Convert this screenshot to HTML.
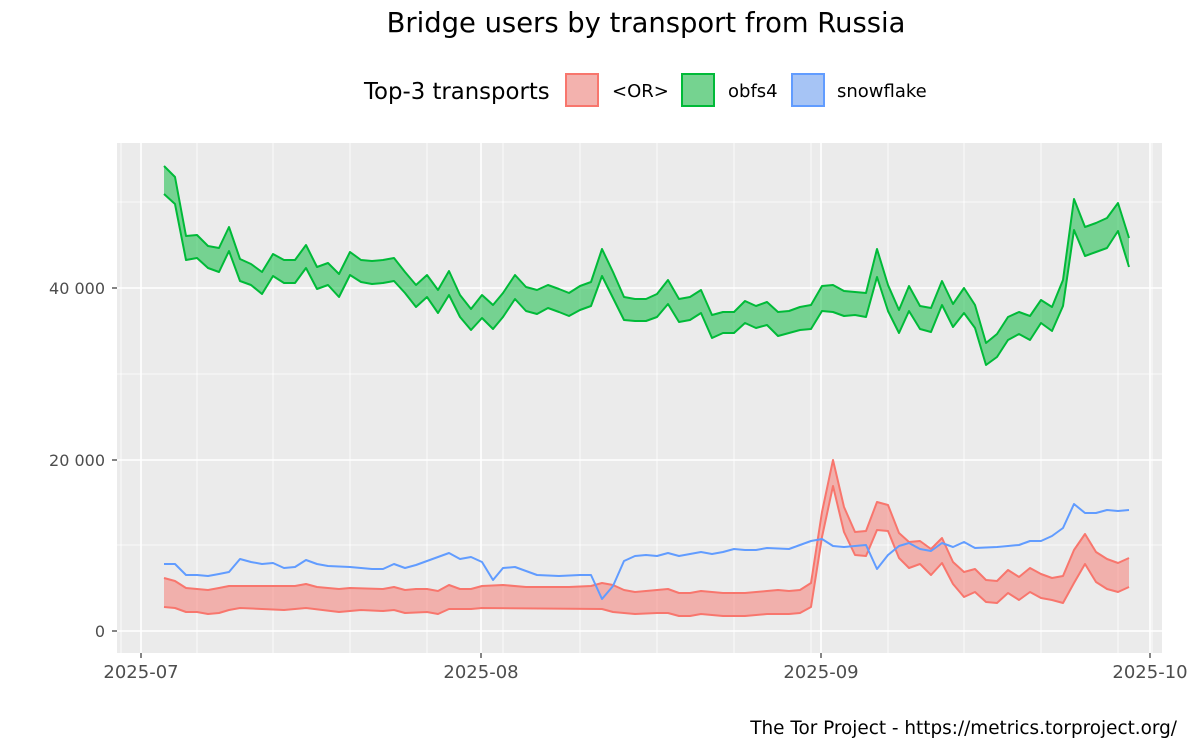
<!DOCTYPE html>
<html><head><meta charset="utf-8"><style>body{margin:0;background:#fff}svg{display:block}</style></head>
<body>
<svg width="1200" height="750" xmlns="http://www.w3.org/2000/svg" font-family="'DejaVu Sans','Liberation Sans',sans-serif">
<rect width="1200" height="750" fill="#fff"/>
<text x="646" y="32" font-size="27.4" text-anchor="middle" fill="#000">Bridge users by transport from Russia</text>
<text x="364" y="99" font-size="22.8" fill="#000">Top-3 transports</text>
<rect x="566" y="74" width="32" height="32" fill="#F3B2AE" stroke="#F8766D" stroke-width="2"/>
<text x="612" y="97" font-size="18">&lt;OR&gt;</text>
<rect x="682" y="74" width="32" height="32" fill="#75D390" stroke="#00BA38" stroke-width="2"/>
<text x="728" y="97" font-size="18">obfs4</text>
<rect x="792" y="74" width="32" height="32" fill="#A6C4F5" stroke="#619CFF" stroke-width="2"/>
<text x="837" y="97" font-size="18">snowflake</text>
<rect x="117" y="143" width="1045" height="510" fill="#EBEBEB"/>
<g stroke="#fff" stroke-width="0.8">
<line x1="117" x2="1162" y1="545" y2="545"/><line x1="117" x2="1162" y1="374" y2="374"/><line x1="117" x2="1162" y1="202" y2="202"/>
<line x1="197" x2="197" y1="143" y2="653"/><line x1="273" x2="273" y1="143" y2="653"/><line x1="350" x2="350" y1="143" y2="653"/><line x1="427" x2="427" y1="143" y2="653"/>
<line x1="503" x2="503" y1="143" y2="653"/><line x1="580" x2="580" y1="143" y2="653"/><line x1="657" x2="657" y1="143" y2="653"/><line x1="734" x2="734" y1="143" y2="653"/><line x1="811" x2="811" y1="143" y2="653"/>
<line x1="888" x2="888" y1="143" y2="653"/><line x1="964" x2="964" y1="143" y2="653"/><line x1="1041" x2="1041" y1="143" y2="653"/><line x1="1118" x2="1118" y1="143" y2="653"/>
<line x1="121" x2="121" y1="143" y2="653"/><line x1="1152" x2="1152" y1="143" y2="653"/>
</g>
<g stroke="#fff" stroke-width="1.6">
<line x1="117" x2="1162" y1="631" y2="631"/><line x1="117" x2="1162" y1="460" y2="460"/><line x1="117" x2="1162" y1="288" y2="288"/>
<line x1="141" x2="141" y1="143" y2="653"/><line x1="481" x2="481" y1="143" y2="653"/><line x1="821" x2="821" y1="143" y2="653"/><line x1="1150" x2="1150" y1="143" y2="653"/>
</g>
<polygon fill="#00BA38" fill-opacity="0.5" points="164,166 175,177 186,236 197,235 208,246 219,248 229,227 240,259 251,264 262,272 273,254 284,260 295,260 306,245 317,267 328,263 339,274 350,252 361,260 372,261 383,260 394,258 405,272 416,285 427,275 438,290 449,271 460,295 471,309 482,295 493,305 503,293 515,275 526,287 537,290 548,285 559,289 569,293 580,286 591,282 602,249 613,272 624,297 635,299 646,299 657,294 668,280 679,299 690,297 701,290 712,315 723,312 734,312 745,301 756,306 767,302 778,312 789,311 800,307 811,305 822,286 833,285 844,291 855,292 866,293 877,249 888,285 899,310 909,286 920,306 931,308 942,281 953,304 964,288 975,305 986,343 997,334 1008,317 1019,312 1030,316 1041,300 1052,307 1063,280 1074,199 1085,227 1096,223 1107,218 1118,203 1129,238 1129,267 1118,231 1107,248 1096,252 1085,256 1074,230 1063,306 1052,331 1041,323 1030,340 1019,334 1008,340 997,357 986,365 975,328 964,313 953,327 942,305 931,332 920,329 909,311 899,333 888,311 877,277 866,317 855,315 844,316 833,312 822,311 811,329 800,330 789,333 778,336 767,325 756,328 745,323 734,333 723,333 712,338 701,313 690,320 679,322 668,304 657,317 646,321 635,321 624,320 613,298 602,276 591,306 580,310 569,316 559,312 548,308 537,314 526,311 515,299 503,317 493,329 482,318 471,330 460,317 449,295 438,313 427,297 416,307 405,293 394,281 383,283 372,284 361,282 350,275 339,297 328,285 317,289 306,268 295,283 284,283 273,276 262,294 251,285 240,281 229,251 219,272 208,268 197,258 186,260 175,204 164,194"/>
<g fill="none" stroke="#00BA38" stroke-width="2" stroke-linejoin="round">
<polyline points="164,166 175,177 186,236 197,235 208,246 219,248 229,227 240,259 251,264 262,272 273,254 284,260 295,260 306,245 317,267 328,263 339,274 350,252 361,260 372,261 383,260 394,258 405,272 416,285 427,275 438,290 449,271 460,295 471,309 482,295 493,305 503,293 515,275 526,287 537,290 548,285 559,289 569,293 580,286 591,282 602,249 613,272 624,297 635,299 646,299 657,294 668,280 679,299 690,297 701,290 712,315 723,312 734,312 745,301 756,306 767,302 778,312 789,311 800,307 811,305 822,286 833,285 844,291 855,292 866,293 877,249 888,285 899,310 909,286 920,306 931,308 942,281 953,304 964,288 975,305 986,343 997,334 1008,317 1019,312 1030,316 1041,300 1052,307 1063,280 1074,199 1085,227 1096,223 1107,218 1118,203 1129,238"/>
<polyline points="164,194 175,204 186,260 197,258 208,268 219,272 229,251 240,281 251,285 262,294 273,276 284,283 295,283 306,268 317,289 328,285 339,297 350,275 361,282 372,284 383,283 394,281 405,293 416,307 427,297 438,313 449,295 460,317 471,330 482,318 493,329 503,317 515,299 526,311 537,314 548,308 559,312 569,316 580,310 591,306 602,276 613,298 624,320 635,321 646,321 657,317 668,304 679,322 690,320 701,313 712,338 723,333 734,333 745,323 756,328 767,325 778,336 789,333 800,330 811,329 822,311 833,312 844,316 855,315 866,317 877,277 888,311 899,333 909,311 920,329 931,332 942,305 953,327 964,313 975,328 986,365 997,357 1008,340 1019,334 1030,340 1041,323 1052,331 1063,306 1074,230 1085,256 1096,252 1107,248 1118,231 1129,267"/>
</g>
<polygon fill="#F8766D" fill-opacity="0.5" points="164,578 175,581 186,588 197,589 208,590 219,588 229,586 240,586 295,586 306,584 317,587 339,589 350,588 383,589 394,587 405,590 416,589 427,589 438,591 449,585 460,589 471,589 482,586 503,585 526,587 548,587 569,587 591,586 602,583 613,585 624,590 635,592 646,591 657,590 668,589 679,593 690,593 701,591 712,592 723,593 745,593 767,591 778,590 789,591 800,590 811,583 822,512 833,460 844,507 855,532 866,531 877,502 888,505 899,533 909,542 920,541 931,549 942,538 953,562 964,572 975,569 986,580 997,581 1008,570 1019,577 1030,568 1041,574 1052,578 1063,576 1074,550 1085,534 1096,552 1107,559 1118,563 1129,558 1129,587 1118,592 1107,589 1096,582 1085,564 1074,583 1063,603 1052,600 1041,598 1030,592 1019,600 1008,593 997,603 986,602 975,592 964,597 953,584 942,563 931,575 920,564 909,568 899,558 888,531 877,530 866,556 855,555 844,532 833,486 822,537 811,607 800,613 789,614 767,614 745,616 723,616 701,614 690,616 679,616 668,613 657,613 635,614 613,612 602,609 482,608 471,609 449,609 438,614 427,612 405,613 394,610 383,611 361,610 339,612 306,608 284,610 262,609 240,608 229,610 219,613 208,614 197,612 186,612 175,608 164,607"/>
<g fill="none" stroke="#F8766D" stroke-width="2" stroke-linejoin="round">
<polyline points="164,578 175,581 186,588 197,589 208,590 219,588 229,586 240,586 295,586 306,584 317,587 339,589 350,588 383,589 394,587 405,590 416,589 427,589 438,591 449,585 460,589 471,589 482,586 503,585 526,587 548,587 569,587 591,586 602,583 613,585 624,590 635,592 646,591 657,590 668,589 679,593 690,593 701,591 712,592 723,593 745,593 767,591 778,590 789,591 800,590 811,583 822,512 833,460 844,507 855,532 866,531 877,502 888,505 899,533 909,542 920,541 931,549 942,538 953,562 964,572 975,569 986,580 997,581 1008,570 1019,577 1030,568 1041,574 1052,578 1063,576 1074,550 1085,534 1096,552 1107,559 1118,563 1129,558"/>
<polyline points="164,607 175,608 186,612 197,612 208,614 219,613 229,610 240,608 262,609 284,610 306,608 339,612 361,610 383,611 394,610 405,613 427,612 438,614 449,609 471,609 482,608 602,609 613,612 635,614 657,613 668,613 679,616 690,616 701,614 723,616 745,616 767,614 789,614 800,613 811,607 822,537 833,486 844,532 855,555 866,556 877,530 888,531 899,558 909,568 920,564 931,575 942,563 953,584 964,597 975,592 986,602 997,603 1008,593 1019,600 1030,592 1041,598 1052,600 1063,603 1074,583 1085,564 1096,582 1107,589 1118,592 1129,587"/>
</g>
<polyline fill="none" stroke="#619CFF" stroke-width="2" stroke-linejoin="round" points="164,564 175,564 186,575 197,575 208,576 219,574 229,572 240,559 251,562 262,564 273,563 284,568 295,567 306,560 317,564 328,566 350,567 372,569 383,569 394,564 405,568 416,565 427,561 438,557 449,553 460,559 471,557 482,562 493,580 503,568 515,567 526,571 537,575 559,576 580,575 591,575 602,599 613,586 624,561 635,556 646,555 657,556 668,553 679,556 690,554 701,552 712,554 723,552 734,549 745,550 756,550 767,548 789,549 800,545 811,541 822,539 833,546 844,547 855,546 866,545 877,569 888,555 899,546 909,543 920,549 931,551 942,543 953,547 964,542 975,548 997,547 1008,546 1019,545 1030,541 1041,541 1052,536 1063,528 1074,504 1085,513 1096,513 1107,510 1118,511 1129,510"/>
<g stroke="#333" stroke-width="1.2">
<line x1="112" x2="117" y1="631" y2="631"/><line x1="112" x2="117" y1="460" y2="460"/><line x1="112" x2="117" y1="288" y2="288"/>
<line x1="141" x2="141" y1="653" y2="658"/><line x1="481" x2="481" y1="653" y2="658"/><line x1="821" x2="821" y1="653" y2="658"/><line x1="1150" x2="1150" y1="653" y2="658"/>
</g>
<g font-size="16" fill="#4D4D4D">
<text x="105" y="637" text-anchor="end">0</text>
<text x="105" y="466" text-anchor="end">20 000</text>
<text x="105" y="294" text-anchor="end">40 000</text>
</g>
<g font-size="18" fill="#4D4D4D">
<text x="141" y="678" text-anchor="middle">2025-07</text>
<text x="481" y="678" text-anchor="middle">2025-08</text>
<text x="821" y="678" text-anchor="middle">2025-09</text>
<text x="1150" y="678" text-anchor="middle">2025-10</text>
</g>
<text x="1177" y="734" font-size="18.4" text-anchor="end" fill="#000">The Tor Project - https://metrics.torproject.org/</text>
</svg>
</body></html>
